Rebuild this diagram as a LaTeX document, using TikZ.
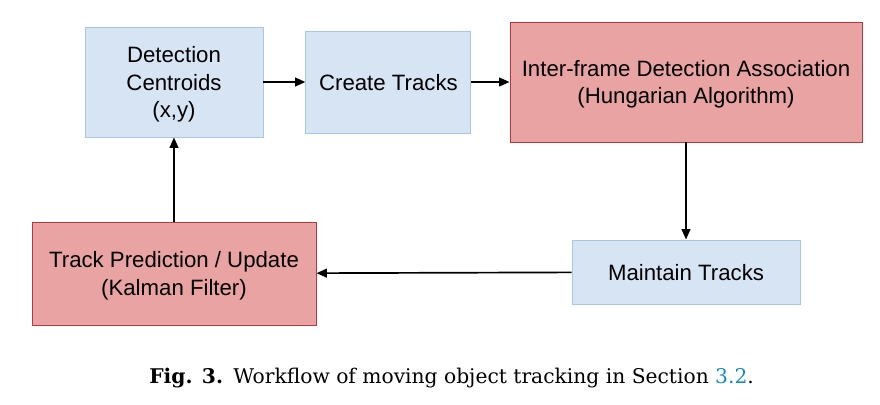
\documentclass[tikz,border=0pt]{standalone}
\usepackage{fontspec}
\setmainfont{Liberation Sans}
\newfontfamily\capfont{DejaVu Serif}
\usepackage{tikz}
\usetikzlibrary{arrows.meta, positioning}
\definecolor{boxblue}{RGB}{214,228,244}
\definecolor{lineblue}{RGB}{170,196,234}
\definecolor{boxred}{RGB}{234,163,163}
\definecolor{linered}{RGB}{184,54,60}
\definecolor{reflink}{RGB}{20,140,190}

\begin{document}
\begin{tikzpicture}[>={Triangle[length=2.6mm,width=2.2mm]},
		bluebox/.style={draw=lineblue, fill=boxblue, line width=0.7pt, align=center, text depth=0pt, font=\fontsize{15.8}{19.5}\selectfont},
		redbox/.style={draw=linered, fill=boxred, line width=0.7pt, align=center, text depth=0pt, font=\fontsize{15.8}{19.5}\selectfont}]
		\useasboundingbox (0,0) rectangle (22,-10.1);
		% Bloki
		\node[bluebox, minimum width=4.45cm, minimum height=2.75cm] (DC) at (4.35,-2.05) {Detection\\Centroids\\(x,y)};
		\node[bluebox, minimum width=4.125cm, minimum height=2.55cm] (CT) at (9.71,-2.05) {Create Tracks};
		\node[redbox, minimum width=8.8cm, minimum height=3cm] (IF) at (17.15,-2.05) {Inter-frame Detection Association\\(Hungarian Algorithm)};
		\node[bluebox, minimum width=5.7cm, minimum height=1.6cm] (MT) at (17.15,-6.8) {Maintain Tracks};
		\node[redbox, minimum width=7.1cm, minimum height=2.575cm] (TP) at (4.35,-6.84) {Track Prediction / Update\\(Kalman Filter)};

		% Podpis
		\node[font=\capfont\fontsize{14.4}{17}\selectfont] (cap) at (11.29,-9.45) {\textbf{Fig. 3.}\enspace Workflow of moving object tracking in Section \textcolor{reflink}{3.2}.};

		% Strzałki
		\draw[->, line width=1.2pt] (DC) -- (CT);
		\draw[->, line width=1.2pt] (CT) -- (IF);
		\draw[->, line width=1.2pt] (IF) -- (MT);
		\draw[->, line width=1.2pt] (MT) -- (TP);
		\draw[->, line width=1.2pt] (TP) -- (DC);
	\end{tikzpicture}
\end{document}
